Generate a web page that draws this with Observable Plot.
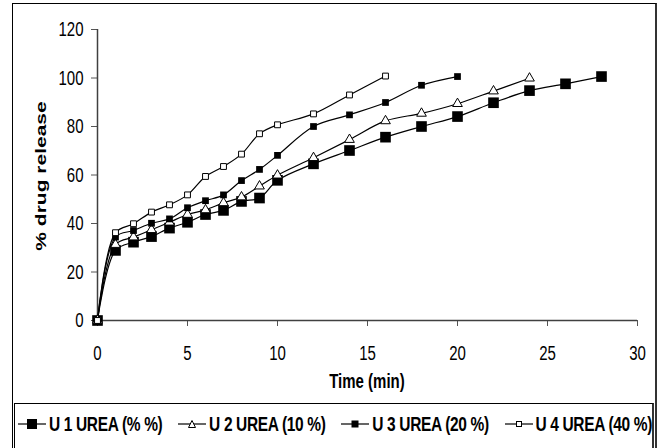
<!DOCTYPE html>
<html><head><meta charset="utf-8">
<script src="https://cdn.jsdelivr.net/npm/d3@7"></script>
<script src="https://cdn.jsdelivr.net/npm/@observablehq/plot@0.6"></script>
<style>
body{margin:0;background:#fff;font-family:"Liberation Sans",Arial,sans-serif;}
#wrap{position:relative;width:664px;height:448px;overflow:hidden;background:#fff;}
#frame{position:absolute;left:12px;top:3px;width:645px;height:470px;border:1px solid #000;border-right:2px solid #333;box-sizing:border-box;}
#chart{position:absolute;left:0;top:0;}
.axlab{position:absolute;font-weight:bold;white-space:nowrap;left:0;top:0;}
#xlab{font-size:15px;transform:translate(-50%,-50%) scaleY(1.3);left:367px;top:381px;}
#ylab{font-size:14px;transform:translate(-50%,-50%) rotate(-90deg) scaleX(1.5);left:41px;top:176px;}
#legend{position:absolute;left:14px;top:403px;width:640px;height:70px;border:1px solid #000;border-right:2px solid #333;box-sizing:border-box;
  display:flex;justify-content:space-between;align-items:flex-start;padding:11px 0 0 3px;}
.item{display:flex;align-items:center;white-space:nowrap;}
.item span{display:inline-block;font-weight:bold;font-size:15.5px;letter-spacing:-0.35px;transform:scaleY(1.35);transform-origin:center;margin-left:3px;}
</style></head>
<body><div id="wrap"><div id="frame"></div><div id="chart"></div><div id="xlab" class="axlab"></div><div id="ylab" class="axlab"></div><div id="legend"></div></div>
<script>
const seriesNames = ["U 1 UREA (% %)", "U 2 UREA (10 %)", "U 3 UREA (20 %)", "U 4 UREA (40 %)"];
const timesU1 = [0,1,2,3,4,5,6,7,8,9,10,12,14,16,18,20,22,24,26,28];
const valuesU1 = [0,28.9,32.3,34.6,38.1,40.5,43.7,45.4,49.1,50.5,57.8,64.6,70.1,75.6,80.0,84.1,89.8,94.8,97.6,100.6];
const timesU2 = [0,1,2,3,4,5,6,7,8,9,10,12,14,16,18,20,22,24];
const valuesU2 = [0,31.3,34.4,37.4,40.5,43.7,45.6,48.5,50.9,55.4,59.9,67.1,74.6,82.3,85.4,89.4,94.6,99.9];
const timesU3 = [0,1,2,3,4,5,6,7,8,9,10,12,14,16,18,20];
const valuesU3 = [0,34.4,37.1,40.1,41.9,46.5,49.4,51.8,57.7,62.3,68.1,80.0,84.8,89.9,97.0,100.6];
const timesU4 = [0,1,2,3,4,5,6,7,8,9,10,12,14,16];
const valuesU4 = [0,36.2,39.9,44.7,47.7,51.8,59.4,63.5,68.6,77.0,80.7,85.2,93.0,100.8];
const xTicks = [0,5,10,15,20,25,30];
const yTicks = [0,20,40,60,80,100,120];
const xLabel = "Time (min)";
const yLabel = "% drug release";

const seriesTimes = [timesU1, timesU2, timesU3, timesU4];
const seriesValues = [valuesU1, valuesU2, valuesU3, valuesU4];
const rows = seriesNames.flatMap((s, i) => seriesTimes[i].map((t, j) => ({series: s, t, v: seriesValues[i][j]})));
const of = s => rows.filter(d => d.series === s);

const markerStyles = [
  {symbol: "square", r: 6, fill: "black", stroke: "none"},
  {symbol: "triangle", r: 3.6, fill: "white", stroke: "black", strokeWidth: 1},
  {symbol: "square", r: 3.8, fill: "black", stroke: "none"},
  {symbol: "square", r: 3.3, fill: "white", stroke: "black", strokeWidth: 1}
];

const chart = Plot.plot({
  width: 664, height: 400,
  marginLeft: 97, marginRight: 27, marginTop: 29, marginBottom: 80,
  style: {fontFamily: "'Liberation Sans', Arial, sans-serif", background: "transparent", color: "black", overflow: "visible"},
  x: {domain: [0, 30]},
  y: {domain: [0, 120]},
  marks: [
    Plot.axisX({ticks: xTicks, tickSize: 6, tickPadding: 19, fontSize: 15, label: null, stroke: "#555"}),
    Plot.axisY({ticks: yTicks, tickSize: 6, tickPadding: 8, fontSize: 15, label: null, stroke: "#555"}),
    Plot.ruleY([0], {stroke: "#404040", strokeWidth: 1.5}),
    Plot.ruleX([0], {stroke: "#404040", strokeWidth: 1.5}),
    Plot.line(rows, {x: "t", y: "v", z: "series", curve: "catmull-rom", stroke: "black", strokeWidth: 1.2}),
    ...seriesNames.map((s, i) => Plot.dot(of(s), {x: "t", y: "v", ...markerStyles[i]}))
  ]
});

function stretch(sel, sx, sy) {
  chart.querySelectorAll(sel).forEach(t => {
    const tr = t.getAttribute("transform");
    if (tr) t.setAttribute("transform", tr + ` scale(${sx},${sy})`);
    else {
      const x = +t.getAttribute("x") || 0, y = +t.getAttribute("y") || 0;
      t.setAttribute("transform", `translate(${x},${y}) scale(${sx},${sy}) translate(${-x},${-y})`);
    }
  });
}
stretch('g[aria-label="x-axis tick label"] text', 1, 1.38);
stretch('g[aria-label="y-axis tick label"] text', 1, 1.38);
document.getElementById("chart").appendChild(chart);
document.getElementById("xlab").textContent = xLabel;
document.getElementById("ylab").textContent = yLabel;

// legend
const legend = d3.select("#legend");
const legendMarkers = [
  {shape: "rect", size: 10, fill: "black"},
  {shape: "tri", size: 7, fill: "white"},
  {shape: "rect", size: 7, fill: "black"},
  {shape: "rect", size: 5, fill: "white"}
];
seriesNames.forEach((s, i) => {
  const it = legend.append("div").attr("class", "item");
  const svg = it.append("svg").attr("width", 28).attr("height", 16);
  svg.append("line").attr("x1", 0).attr("x2", 28).attr("y1", 8).attr("y2", 8).attr("stroke", "black").attr("stroke-width", 1.2);
  const m = legendMarkers[i];
  if (m.shape === "rect") {
    svg.append("rect").attr("x", 14 - m.size / 2).attr("y", 8 - m.size / 2).attr("width", m.size).attr("height", m.size)
      .attr("fill", m.fill).attr("stroke", "black").attr("stroke-width", m.fill === "white" ? 1 : 0);
  } else {
    svg.append("path").attr("d", `M14,${8 - m.size / 2}L${14 + m.size / 2},${8 + m.size / 2}L${14 - m.size / 2},${8 + m.size / 2}Z`)
      .attr("fill", "white").attr("stroke", "black").attr("stroke-width", 1);
  }
  it.append("span").text(s);
});
</script></body></html>
